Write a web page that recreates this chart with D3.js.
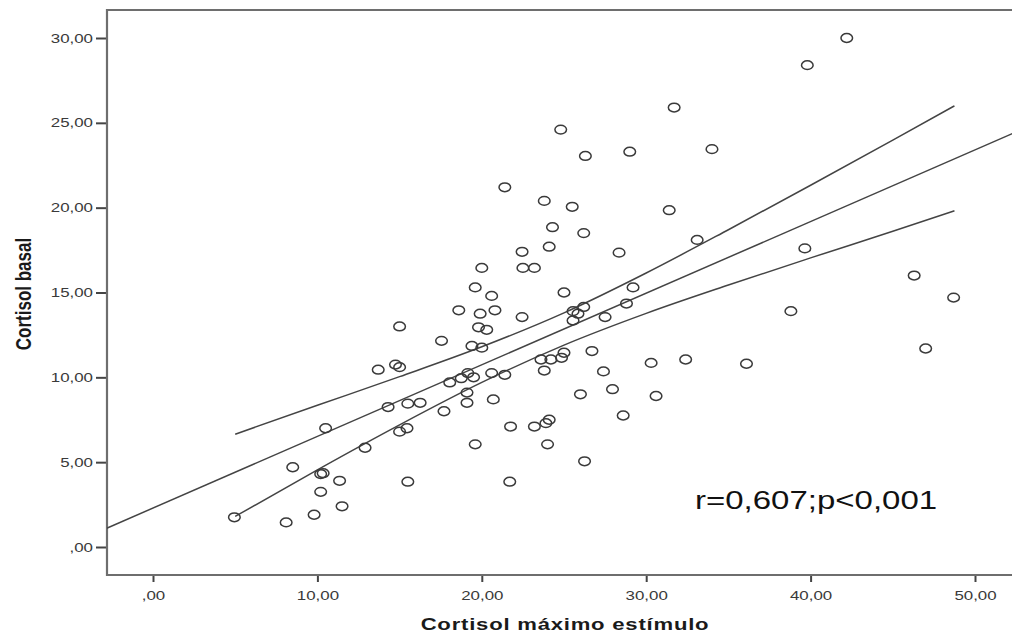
<!DOCTYPE html>
<html>
<head>
<meta charset="utf-8">
<script src="https://cdn.jsdelivr.net/npm/d3@7"></script>
<style>
  body { margin: 0; background: #fff; }
  text { font-family: "Liberation Sans", Arial, sans-serif; }
</style>
</head>
<body>
<svg id="chart" width="1012" height="637"></svg>
<script>
// cortisol values
const cortisolMax = [
  42.2, 39.8, 31.7, 34.0, 31.4, 33.1, 39.65, 46.3, 48.7, 38.8, 47.0, 32.4, 36.1, 30.3, 30.6,
  24.8, 26.3, 29.0, 21.4, 23.8, 25.5, 24.3, 26.2, 22.45, 24.1, 28.35, 20.0, 22.5, 23.2,
  19.6, 20.6, 25.0, 29.2, 18.6, 19.9, 20.8, 22.45, 25.55, 26.2, 25.85, 25.55, 27.5, 28.8,
  19.8, 20.3, 17.55, 19.4, 20.0, 23.6, 24.2, 24.85, 25.0, 26.7, 18.05, 18.75, 19.15, 19.5,
  20.6, 21.4, 23.8, 27.4, 19.1, 19.1, 17.7, 20.7, 26.0, 27.95, 28.6, 21.75, 23.2, 23.9,
  24.1, 19.6, 24.0, 26.25, 21.7, 15.0, 13.7, 14.75, 15.0, 14.3, 15.5, 16.25, 10.5, 15.0,
  15.45, 12.9, 4.95, 8.1, 9.8, 11.5, 8.5, 10.2, 10.35, 10.2, 11.35, 15.5
];
const cortisolBasal = [
  30.0, 28.4, 25.9, 23.45, 19.85, 18.1, 17.6, 16.0, 14.7, 13.9, 11.7, 11.05, 10.8, 10.85, 8.9,
  24.6, 23.05, 23.3, 21.2, 20.4, 20.05, 18.85, 18.5, 17.4, 17.7, 17.35, 16.45, 16.45, 16.45,
  15.3, 14.8, 15.0, 15.3, 13.95, 13.75, 13.95, 13.55, 13.9, 14.15, 13.75, 13.35, 13.55, 14.35,
  12.95, 12.8, 12.15, 11.85, 11.75, 11.05, 11.05, 11.15, 11.45, 11.55, 9.7, 9.95, 10.25, 10.0,
  10.25, 10.15, 10.4, 10.35, 9.1, 8.5, 8.0, 8.7, 9.0, 9.3, 7.75, 7.1, 7.1, 7.3,
  7.5, 6.05, 6.05, 5.05, 3.85, 13.0, 10.45, 10.75, 10.6, 8.25, 8.45, 8.5, 7.0, 6.8,
  7.0, 5.85, 1.75, 1.45, 1.9, 2.4, 4.7, 4.3, 4.35, 3.25, 3.9, 3.85
];

// fit line (total) and its mean confidence band
const fitX = [-3, 53];
const fitY = [1.03, 24.67];
const bandX = [5, 10, 15, 20, 25, 30, 35, 40, 45, 48.75];
const bandUpper = [6.65, 8.35, 10.04, 11.8, 13.8, 16.15, 18.7, 21.32, 23.98, 26.0];
const bandLower = [1.8, 4.55, 7.2, 9.7, 11.9, 13.77, 15.44, 17.04, 18.61, 19.82];

const xTicks = [0, 10, 20, 30, 40, 50];
const yTicks = [0, 5, 10, 15, 20, 25, 30];
const annotation = "r=0,607;p<0,001";

const stretch = 1.3;
const frame = { left: 107, top: 10, bottom: 575, right: 1012 };

const svg = d3.select("#chart");

const x = d3.scaleLinear().domain([0, 50]).range([153, 975]);
const y = d3.scaleLinear().domain([0, 30]).range([547, 38]);

const fmt = (d) => (d === 0 ? ",00" : d3.format(".2f")(d).replace(".", ","));

svg.append("clipPath").attr("id", "plot-clip")
  .append("rect")
  .attr("x", frame.left)
  .attr("y", frame.top)
  .attr("width", frame.right - frame.left)
  .attr("height", frame.bottom - frame.top);

// axes
let yAxis = svg.append("g")
  .attr("transform", `translate(${frame.left},0)`)
  .call(d3.axisLeft(y).tickValues(yTicks).tickSize(11).tickFormat(fmt));
yAxis.select(".domain").remove();
yAxis.selectAll("line").attr("stroke", "#444").attr("stroke-width", 2);
yAxis.selectAll("text")
  .attr("x", -14 / stretch)
  .attr("transform", `scale(${stretch},1)`)
  .attr("fill", "#3a3a3a")
  .style("font-size", "13px")
  .style("font-family", "'Liberation Sans', Arial, sans-serif");

let xAxis = svg.append("g")
  .attr("transform", `translate(0,${frame.bottom})`)
  .call(d3.axisBottom(x).tickValues(xTicks).tickSize(7).tickFormat(fmt));
xAxis.select(".domain").remove();
xAxis.selectAll("line").attr("stroke", "#444").attr("stroke-width", 2);
xAxis.selectAll("text")
  .attr("y", 25)
  .attr("dy", 0)
  .attr("transform", `scale(${stretch},1)`)
  .attr("fill", "#3a3a3a")
  .style("font-size", "13px")
  .style("font-family", "'Liberation Sans', Arial, sans-serif");

// frame (right edge falls outside the picture)
svg.append("path")
  .attr("d", `M${frame.right + 20},${frame.top}H${frame.left}V${frame.bottom}H${frame.right + 20}`)
  .attr("fill", "none")
  .attr("stroke", "#6e6e6e")
  .attr("stroke-width", 2.2);

let plot = svg.append("g").attr("clip-path", "url(#plot-clip)");

let line = d3.line()
  .x((d) => x(d[0]))
  .y((d) => y(d[1]));

plot.append("path")
  .datum(fitX.map((v, i) => [v, fitY[i]]))
  .attr("d", line)
  .attr("fill", "none")
  .attr("stroke", "#444")
  .attr("stroke-width", 1.5);

let bandLine = d3.line()
  .x((d) => x(d[0]))
  .y((d) => y(d[1]))
  .curve(d3.curveMonotoneX);

[bandUpper, bandLower].forEach((band) => {
  plot.append("path")
    .datum(bandX.map((v, i) => [v, band[i]]))
    .attr("d", bandLine)
    .attr("fill", "none")
    .attr("stroke", "#444")
    .attr("stroke-width", 1.5);
});

plot.selectAll(".dot")
  .data(cortisolMax.map((v, i) => [v, cortisolBasal[i]]))
  .enter()
  .append("ellipse")
  .attr("class", "dot")
  .attr("cx", (d) => x(d[0]))
  .attr("cy", (d) => y(d[1]))
  .attr("rx", 5.8)
  .attr("ry", 4.4)
  .attr("fill", "none")
  .attr("stroke", "#3a3a3a")
  .attr("stroke-width", 1.5);

// titles
svg.append("text")
  .attr("transform", `translate(565,630) scale(${stretch},1)`)
  .attr("text-anchor", "middle")
  .style("font-size", "17px")
  .style("font-weight", "bold")
  .style("letter-spacing", "0.6px")
  .attr("fill", "#1a1a1a")
  .text("Cortisol máximo estímulo");

svg.append("text")
  .attr("transform", `translate(31,294) scale(${stretch},1) rotate(-90)`)
  .attr("text-anchor", "middle")
  .style("font-size", "17px")
  .style("font-weight", "bold")
  .attr("fill", "#1a1a1a")
  .text("Cortisol basal");

svg.append("text")
  .attr("transform", `translate(695,509) scale(1.32,1)`)
  .style("font-size", "25px")
  .attr("fill", "#111")
  .text(annotation);
</script>
</body>
</html>
